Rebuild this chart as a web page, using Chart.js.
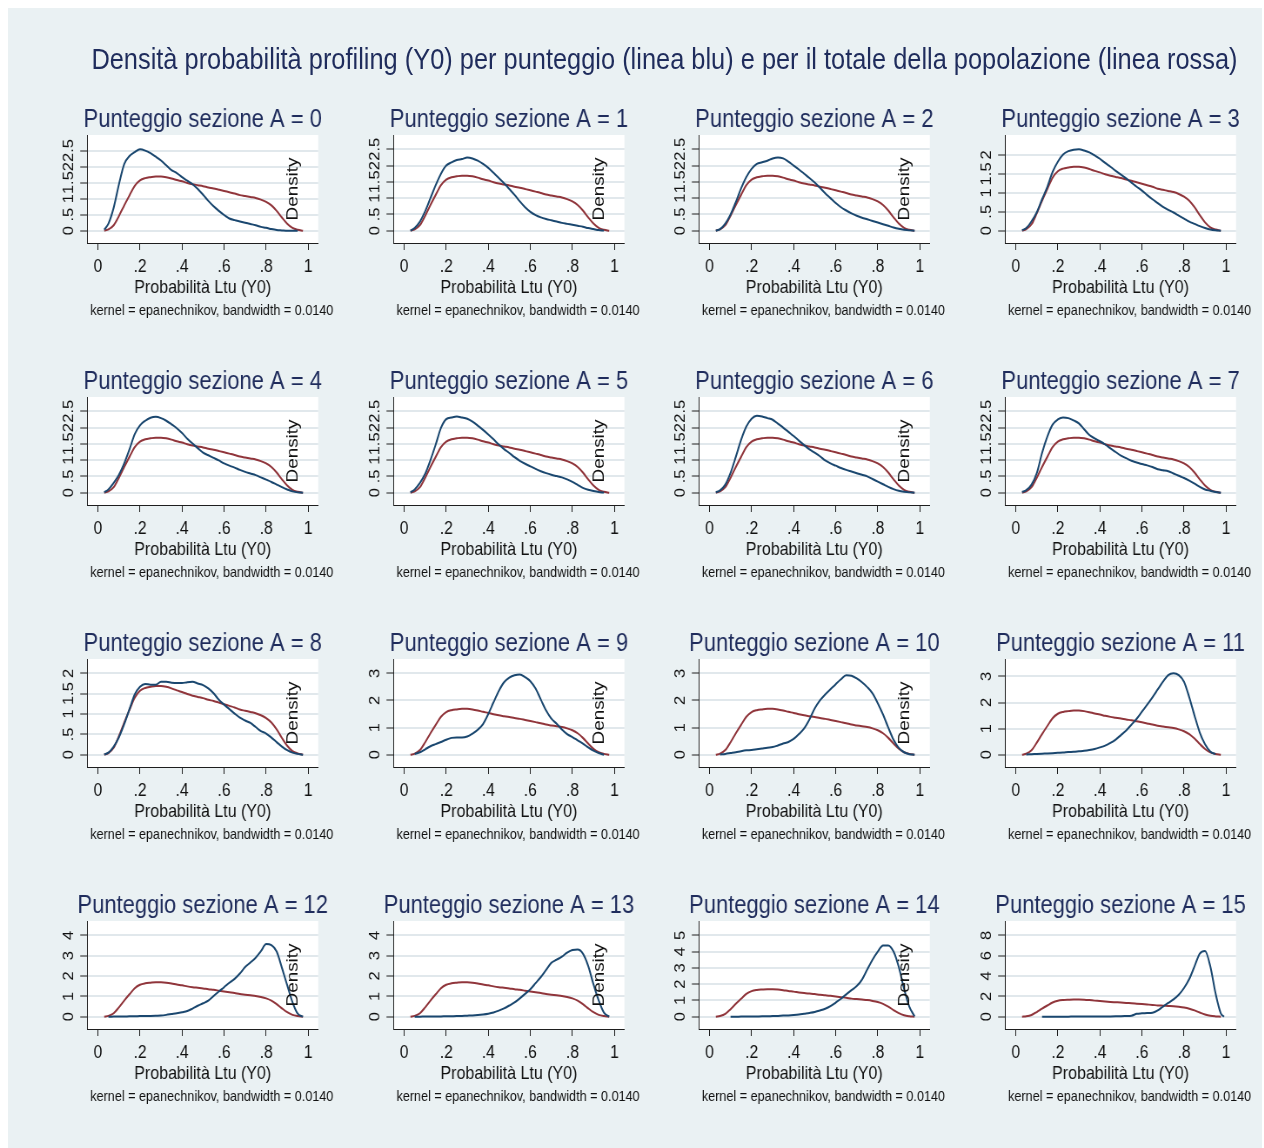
<!DOCTYPE html>
<html lang="it">
<head>
<meta charset="utf-8">
<title>Densità probabilità profiling (Y0)</title>
<script src="https://cdn.jsdelivr.net/npm/chart.js@4.4.1/dist/chart.umd.min.js"></script>
<style>
  html, body { margin: 0; padding: 0; background: #ffffff; }
  body { width: 1264px; height: 1148px; overflow: hidden; position: relative; }
  #frame { position: absolute; left: 8px; top: 8px; width: 1254px; height: 1140px; background: #eaf1f3; }
  /* the whole figure is drawn in a slightly condensed horizontal scale */
  #stage { position: absolute; left: 0; top: 0; width: 1453px; height: 1148px;
           transform: scaleX(0.87); transform-origin: 0 0; }
  #stage canvas { position: absolute; }
  #mainTitle { position: absolute; white-space: nowrap; line-height: 1;
               font-family: 'Liberation Sans', Arial, Helvetica, sans-serif;
               font-size: 29.2px; color: #1f2c5c; transform: translateX(-50%); }
</style>
</head>
<body>
<div id="frame"></div>
<div id="stage">
  <div id="mainTitle">Densità probabilità profiling (Y0) per punteggio (linea blu) e per il totale della popolazione (linea rossa)</div>
</div>
<script>
// ---------------------------------------------------------------
// Data: kernel densities evaluated on a common grid of Ltu probability
// ---------------------------------------------------------------
const xGrid = [0.03, 0.05, 0.075, 0.1, 0.125, 0.15, 0.175, 0.2, 0.225, 0.25,
  0.275, 0.3, 0.325, 0.35, 0.375, 0.4, 0.425, 0.45, 0.475, 0.5,
  0.525, 0.55, 0.575, 0.6, 0.625, 0.65, 0.675, 0.7, 0.725, 0.75,
  0.775, 0.8, 0.825, 0.85, 0.875, 0.9, 0.925, 0.95, 0.975, 0.99];

// whole population (red line)
const totale = [0, 0.04, 0.17, 0.46, 0.79, 1.10, 1.40, 1.57, 1.64, 1.67,
  1.69, 1.69, 1.67, 1.63, 1.58, 1.54, 1.49, 1.45, 1.42, 1.39,
  1.35, 1.32, 1.28, 1.24, 1.20, 1.16, 1.11, 1.08, 1.05, 1.02,
  0.97, 0.90, 0.79, 0.62, 0.41, 0.22, 0.09, 0.03, 0, null];

// one density per score of section A (blue line)
const blu0 = [0.03, 0.22, 0.72, 1.45, 2.08, 2.33, 2.45, 2.54, 2.50, 2.42,
  2.31, 2.19, 2.04, 1.89, 1.80, 1.67, 1.56, 1.45, 1.30, 1.12,
  0.93, 0.76, 0.62, 0.49, 0.38, 0.33, 0.29, 0.25, 0.21, 0.17,
  0.12, 0.09, 0.05, 0.02, 0.01, 0, 0, 0, null, null];
const blu1 = [0, 0.08, 0.28, 0.60, 1.00, 1.40, 1.75, 2.00, 2.10, 2.17,
  2.20, 2.25, 2.22, 2.15, 2.05, 1.93, 1.78, 1.62, 1.46, 1.28,
  1.10, 0.90, 0.72, 0.58, 0.48, 0.41, 0.36, 0.32, 0.28, 0.24,
  0.21, 0.18, 0.15, 0.12, 0.08, 0.05, 0.02, 0.005, null, null];
const blu2 = [0, 0.05, 0.22, 0.50, 0.88, 1.30, 1.65, 1.90, 2.05, 2.10,
  2.15, 2.22, 2.25, 2.22, 2.12, 2.00, 1.88, 1.75, 1.62, 1.48,
  1.32, 1.15, 1.00, 0.85, 0.72, 0.62, 0.53, 0.46, 0.40, 0.35,
  0.30, 0.25, 0.20, 0.15, 0.10, 0.06, 0.03, 0.01, 0, null];
const blu3 = [0.01, 0.07, 0.25, 0.49, 0.83, 1.16, 1.55, 1.82, 2.01, 2.10,
  2.14, 2.15, 2.12, 2.07, 1.99, 1.90, 1.79, 1.69, 1.58, 1.48,
  1.38, 1.27, 1.16, 1.06, 0.94, 0.83, 0.73, 0.63, 0.55, 0.48,
  0.40, 0.32, 0.24, 0.18, 0.12, 0.07, 0.03, 0.01, 0, null];
const blu4 = [0.01, 0.10, 0.30, 0.55, 0.90, 1.33, 1.80, 2.07, 2.21, 2.30,
  2.33, 2.29, 2.21, 2.10, 1.98, 1.83, 1.66, 1.51, 1.37, 1.23,
  1.15, 1.07, 0.99, 0.90, 0.83, 0.77, 0.70, 0.64, 0.59, 0.54,
  0.47, 0.40, 0.33, 0.25, 0.17, 0.10, 0.04, 0.01, 0, null];
const blu5 = [0.01, 0.10, 0.30, 0.58, 1.00, 1.48, 1.99, 2.26, 2.31, 2.34,
  2.31, 2.27, 2.18, 2.06, 1.93, 1.79, 1.64, 1.48, 1.34, 1.22,
  1.09, 0.98, 0.89, 0.81, 0.73, 0.66, 0.60, 0.55, 0.51, 0.47,
  0.41, 0.33, 0.24, 0.15, 0.09, 0.05, 0.02, 0.005, null, null];
const blu6 = [0.01, 0.07, 0.25, 0.61, 1.10, 1.62, 2.03, 2.27, 2.36, 2.34,
  2.29, 2.24, 2.12, 2.00, 1.87, 1.74, 1.60, 1.46, 1.33, 1.23,
  1.12, 0.99, 0.90, 0.83, 0.76, 0.70, 0.65, 0.60, 0.55, 0.50,
  0.42, 0.34, 0.26, 0.18, 0.11, 0.06, 0.03, 0.01, 0, null];
const blu7 = [0.02, 0.08, 0.25, 0.60, 1.22, 1.72, 2.09, 2.25, 2.31, 2.29,
  2.22, 2.13, 1.95, 1.77, 1.67, 1.58, 1.48, 1.36, 1.25, 1.14,
  1.06, 0.98, 0.93, 0.88, 0.84, 0.79, 0.72, 0.69, 0.66, 0.59,
  0.52, 0.45, 0.37, 0.28, 0.18, 0.10, 0.06, 0.02, 0, null];
const blu8 = [0.005, 0.05, 0.20, 0.43, 0.75, 1.12, 1.48, 1.67, 1.74, 1.72,
  1.72, 1.79, 1.79, 1.77, 1.76, 1.76, 1.78, 1.79, 1.75, 1.71,
  1.63, 1.51, 1.35, 1.23, 1.12, 1.01, 0.91, 0.84, 0.78, 0.68,
  0.58, 0.52, 0.42, 0.31, 0.20, 0.11, 0.05, 0.02, 0, null];
const blu9 = [null, 0.02, 0.09, 0.20, 0.31, 0.39, 0.47, 0.55, 0.62, 0.63,
  0.63, 0.67, 0.78, 0.92, 1.13, 1.50, 1.93, 2.35, 2.67, 2.84,
  2.93, 2.96, 2.86, 2.71, 2.44, 2.03, 1.63, 1.33, 1.14, 0.93,
  0.76, 0.65, 0.53, 0.41, 0.27, 0.15, 0.06, 0, null, null];
const blu10 = [null, 0.01, 0.03, 0.06, 0.09, 0.13, 0.16, 0.17, 0.20, 0.23,
  0.26, 0.28, 0.34, 0.41, 0.47, 0.58, 0.76, 0.97, 1.30, 1.70,
  2.00, 2.22, 2.41, 2.60, 2.78, 2.93, 2.91, 2.81, 2.67, 2.49,
  2.26, 1.90, 1.48, 1.00, 0.55, 0.25, 0.09, 0.02, 0, null];
const blu11 = [null, 0.01, 0.02, 0.03, 0.04, 0.05, 0.06, 0.07, 0.08, 0.10,
  0.11, 0.13, 0.15, 0.18, 0.22, 0.28, 0.35, 0.45, 0.58, 0.75,
  0.93, 1.15, 1.38, 1.65, 1.92, 2.20, 2.50, 2.80, 3.05, 3.12,
  3.05, 2.80, 2.20, 1.50, 0.85, 0.40, 0.12, 0.02, null, null];
const blu12 = [null, 0, 0.005, 0.01, 0.01, 0.02, 0.02, 0.03, 0.03, 0.04,
  0.05, 0.06, 0.09, 0.13, 0.17, 0.22, 0.28, 0.40, 0.54, 0.66,
  0.79, 1.02, 1.24, 1.45, 1.67, 1.86, 2.12, 2.44, 2.66, 2.90,
  3.22, 3.57, 3.52, 3.20, 2.40, 1.55, 0.72, 0.15, 0, null];
const blu13 = [null, 0, 0.003, 0.005, 0.008, 0.01, 0.015, 0.02, 0.025, 0.03,
  0.04, 0.05, 0.06, 0.08, 0.11, 0.15, 0.21, 0.30, 0.41, 0.55,
  0.70, 0.90, 1.12, 1.35, 1.65, 1.95, 2.30, 2.65, 2.80, 2.95,
  3.15, 3.28, 3.30, 3.10, 2.50, 1.60, 0.80, 0.20, 0, null];
const blu14 = [null, null, null, 0, 0.003, 0.005, 0.008, 0.01, 0.015, 0.02,
  0.03, 0.04, 0.05, 0.07, 0.08, 0.10, 0.13, 0.18, 0.23, 0.29,
  0.38, 0.49, 0.65, 0.87, 1.10, 1.37, 1.63, 1.88, 2.28, 2.90,
  3.50, 4.00, 4.37, 4.38, 4.00, 3.05, 1.72, 0.62, 0.02, null];
const blu15 = [null, null, null, null, 0, 0, 0, 0, 0.005, 0.005,
  0.01, 0.01, 0.01, 0.01, 0.02, 0.02, 0.02, 0.03, 0.04, 0.05,
  0.07, 0.10, 0.28, 0.33, 0.36, 0.39, 0.62, 1.00, 1.35, 1.70,
  2.15, 2.82, 3.70, 4.95, 6.20, 6.45, 4.95, 2.30, 0.33, 0];

const blueSeries = [blu0, blu1, blu2, blu3, blu4, blu5, blu6, blu7,
  blu8, blu9, blu10, blu11, blu12, blu13, blu14, blu15];

// panel scores and axis ticks
const punteggi = [0, 1, 2, 3, 4, 5, 6, 7, 8, 9, 10, 11, 12, 13, 14, 15];
const xTickValues = [0, 0.2, 0.4, 0.6, 0.8, 1];
const xTickLabels = ['0', '.2', '.4', '.6', '.8', '1'];
const yTicksHalf25 = [0, 0.5, 1, 1.5, 2, 2.5];
const yLabelsHalf25 = ['0', '.5', '1', '1.5', '2', '2.5'];
const yTicksHalf2 = [0, 0.5, 1, 1.5, 2];
const yLabelsHalf2 = ['0', '.5', '1', '1.5', '2'];
const yTicksTo3 = [0, 1, 2, 3];
const yLabelsTo3 = ['0', '1', '2', '3'];
const yTicksTo4 = [0, 1, 2, 3, 4];
const yLabelsTo4 = ['0', '1', '2', '3', '4'];
const yTicksTo5 = [0, 1, 2, 3, 4, 5];
const yLabelsTo5 = ['0', '1', '2', '3', '4', '5'];
const yTicksTo8 = [0, 2, 4, 6, 8];
const yLabelsTo8 = ['0', '2', '4', '6', '8'];
const yAxisOfPanel = [
  [yTicksHalf25, yLabelsHalf25], [yTicksHalf25, yLabelsHalf25], [yTicksHalf25, yLabelsHalf25], [yTicksHalf2, yLabelsHalf2],
  [yTicksHalf25, yLabelsHalf25], [yTicksHalf25, yLabelsHalf25], [yTicksHalf25, yLabelsHalf25], [yTicksHalf25, yLabelsHalf25],
  [yTicksHalf2, yLabelsHalf2], [yTicksTo3, yLabelsTo3], [yTicksTo3, yLabelsTo3], [yTicksTo3, yLabelsTo3],
  [yTicksTo4, yLabelsTo4], [yTicksTo4, yLabelsTo4], [yTicksTo5, yLabelsTo5], [yTicksTo8, yLabelsTo8]
];

const panelTitle = 'Punteggio sezione A = ';
const xTitle = 'Probabilità Ltu (Y0)';
const yTitle = 'Density';
const kernelNote = 'kernel = epanechnikov, bandwidth = 0.0140';

// ---------------------------------------------------------------
// Styling and layout
// ---------------------------------------------------------------
const FONT = "'Liberation Sans', Arial, Helvetica, sans-serif";
const SX = 0.87;                  // horizontal squeeze applied to #stage
const NAVY_TEXT = '#1f2c5c';
const BLUE = '#1a476f';
const RED = '#90353b';
const AXIS = '#1e1e1e';
const GRID = '#e1e8ec';
const INK = '#111111';

const COL_STEP = 306, ROW_STEP = 262;     // screen px between panels
const FIRST_PLOT_LEFT = 87;               // screen x of first y axis line
const FIRST_CANVAS_TOP = 100;
const PLOT_W = 231;                       // screen px
const AXIS_W = 55;                        // screen px reserved on each side
const TITLE_H = 35, XAXIS_H = 57, NOTE_H = 22, PLOT_H = 108;
const Y_TICK_LEN = 8;                     // stage px (horizontal)
const Y_TICK_FONT = 16.5;
const Y_LABEL_OFFSET = 18 / SX;           // label centre distance from axis line
const X_MIN = -0.0509, X_MAX = 1.0476;
const TOP_PAD = 14.3 / 81.4, BOTTOM_PAD = 12.3 / 81.4;

Chart.defaults.font.family = FONT;

// main title centre
const mainTitle = document.getElementById('mainTitle');
mainTitle.style.left = (664.5 / SX) + 'px';
mainTitle.style.top = '44.7px';

// measure tick label widths so rotated labels sit at a fixed distance
const measureCtx = document.createElement('canvas').getContext('2d');
measureCtx.font = Y_TICK_FONT + 'px ' + FONT;
function widest(labels) {
  return Math.max(...labels.map(l => measureCtx.measureText(l).width));
}

const panelDecor = {
  id: 'panelDecor',
  beforeDraw(chart) {
    const {ctx, chartArea: a} = chart;
    ctx.save();
    ctx.fillStyle = '#ffffff';
    ctx.fillRect(a.left, a.top, a.right - a.left, a.bottom - a.top);
    ctx.restore();
  },
  afterDraw(chart, args, opts) {
    const {ctx, chartArea: a} = chart;
    ctx.save();
    ctx.fillStyle = INK;
    ctx.font = '14.5px ' + FONT;
    ctx.textAlign = 'left';
    ctx.textBaseline = 'middle';
    ctx.fillText(opts.note, a.left + 3 / SX, a.bottom + 68);
    if (opts.showDensity) {
      ctx.translate(a.left + 206 / SX, (a.top + a.bottom) / 2);
      ctx.rotate(-Math.PI / 2);
      ctx.textAlign = 'center';
      ctx.font = '18.9px ' + FONT;
      ctx.fillText(yTitle, 0, 0);
    }
    ctx.restore();
  }
};

function points(values) {
  const out = [];
  values.forEach((v, k) => { if (v !== null) out.push({x: xGrid[k], y: v}); });
  return out;
}

const stage = document.getElementById('stage');

punteggi.forEach((score, i) => {
  const r = Math.floor(i / 4), c = i % 4;
  const blue = blueSeries[i];
  const [yTicks, yLabels] = yAxisOfPanel[i];

  const top = Math.max(yTicks[yTicks.length - 1], ...blue.filter(v => v !== null),
                       ...totale.filter(v => v !== null));
  const yMin = -top * BOTTOM_PAD;
  const yMax = top * (1 + TOP_PAD);
  const yPad = Y_LABEL_OFFSET - Y_TICK_LEN - widest(yLabels) / 2;

  const canvas = document.createElement('canvas');
  const cw = Math.round((AXIS_W * 2 + PLOT_W) / SX);
  const ch = TITLE_H + PLOT_H + XAXIS_H + NOTE_H;
  canvas.width = cw;
  canvas.height = ch;
  canvas.style.width = cw + 'px';
  canvas.style.height = ch + 'px';
  canvas.style.left = ((FIRST_PLOT_LEFT - AXIS_W + c * COL_STEP) / SX) + 'px';
  canvas.style.top = (FIRST_CANVAS_TOP + r * ROW_STEP) + 'px';
  stage.appendChild(canvas);

  const sideW = (cw - PLOT_W / SX) / 2;

  new Chart(canvas, {
    type: 'line',
    data: {
      datasets: [
        { label: 'Punteggio ' + score, data: points(blue), borderColor: BLUE, borderWidth: 2,
          pointRadius: 0, fill: false, cubicInterpolationMode: 'monotone' },
        { label: 'Totale', data: points(totale), borderColor: RED, borderWidth: 2,
          pointRadius: 0, fill: false, cubicInterpolationMode: 'monotone' }
      ]
    },
    options: {
      responsive: false,
      animation: false,
      devicePixelRatio: 1,
      events: [],
      layout: { padding: { left: 0, right: 0, top: 0, bottom: NOTE_H } },
      plugins: {
        legend: { display: false },
        tooltip: { enabled: false },
        title: {
          display: true, text: panelTitle + score, color: NAVY_TEXT,
          font: { family: FONT, size: 25.2, weight: 'normal', lineHeight: 1 },
          padding: { top: 7.4, bottom: 2.4 }
        },
        panelDecor: { note: kernelNote, showDensity: c < 3 }
      },
      scales: {
        x: {
          type: 'linear', min: X_MIN, max: X_MAX, bounds: 'data',
          afterBuildTicks: s => { s.ticks = xTickValues.map(v => ({ value: v })); },
          afterFit: s => { s.height = XAXIS_H; },
          grid: { display: true, drawOnChartArea: false, drawTicks: true, tickLength: 7,
                  tickColor: AXIS, tickWidth: 1, color: AXIS },
          border: { display: true, color: AXIS, width: 1 },
          ticks: { autoSkip: false, minRotation: 0, maxRotation: 0, padding: 6.2, color: INK,
                   font: { family: FONT, size: 18 }, callback: (v, k) => xTickLabels[k] },
          title: { display: true, text: xTitle, color: INK,
                   font: { family: FONT, size: 18.4, lineHeight: 1.2 },
                   padding: { top: 0, bottom: 1 } }
        },
        y: {
          type: 'linear', position: 'left', min: yMin, max: yMax, bounds: 'data',
          afterBuildTicks: s => { s.ticks = yTicks.map(v => ({ value: v })); },
          afterFit: s => { s.width = sideW; },
          grid: { color: GRID, lineWidth: 2, drawTicks: true, tickLength: Y_TICK_LEN,
                  tickColor: AXIS, tickWidth: 1 },
          border: { display: true, color: AXIS, width: 1 },
          ticks: { autoSkip: false, minRotation: 90, maxRotation: 90, crossAlign: 'center',
                   padding: yPad, color: INK, font: { family: FONT, size: Y_TICK_FONT },
                   callback: (v, k) => yLabels[k] }
        },
        yRight: {
          position: 'right', display: true,
          afterFit: s => { s.width = sideW; },
          grid: { display: false }, border: { display: false }, ticks: { display: false }
        }
      }
    },
    plugins: [panelDecor]
  });
});
</script>
</body>
</html>
